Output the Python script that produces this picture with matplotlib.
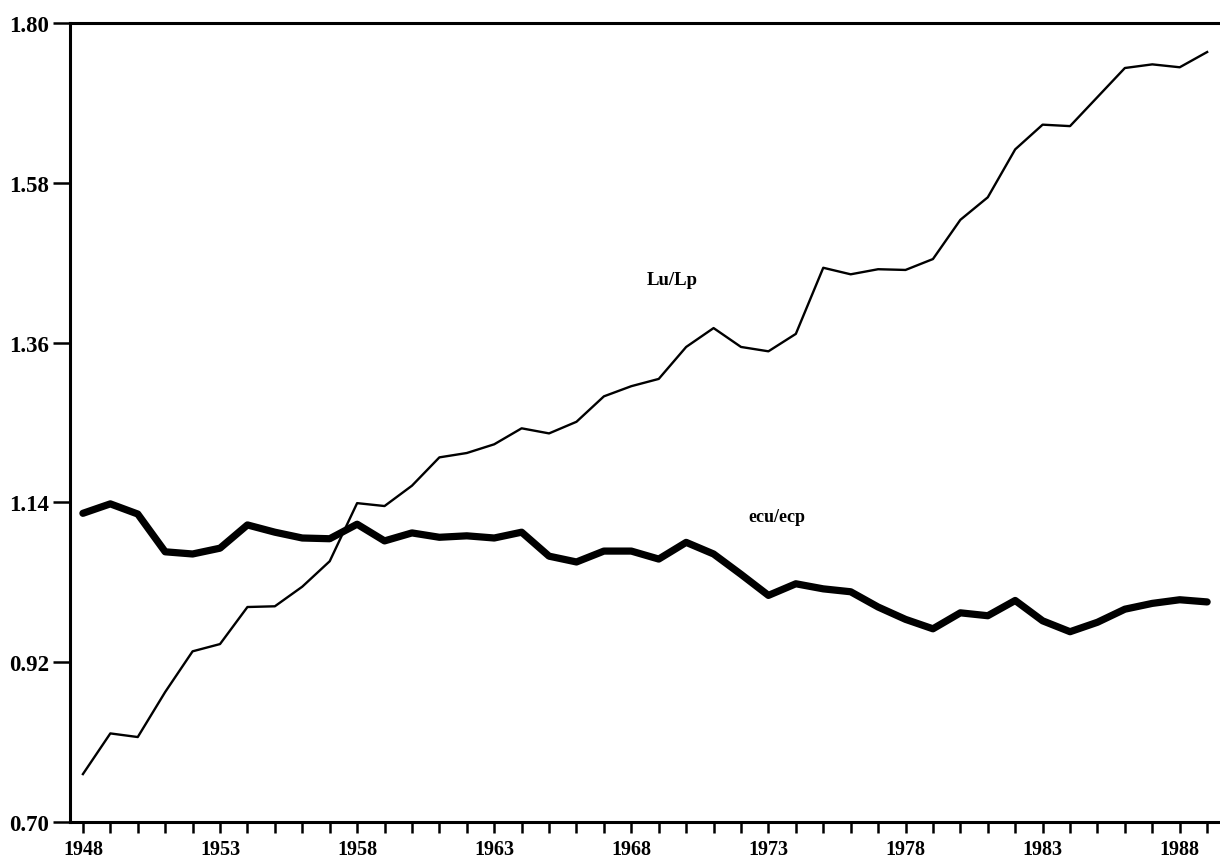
import matplotlib
matplotlib.use("Agg")
import matplotlib.pyplot as plt
import numpy as np

years = list(range(1948, 1990))
lu_lp = [0.766, 0.822, 0.817, 0.879, 0.935, 0.945, 0.996, 0.997, 1.024, 1.059,
         1.139, 1.135, 1.163, 1.202, 1.208, 1.220, 1.242, 1.235, 1.251, 1.286,
         1.300, 1.310, 1.354, 1.380, 1.354, 1.348, 1.372, 1.463, 1.454, 1.461,
         1.460, 1.475, 1.529, 1.560, 1.626, 1.660, 1.658, 1.698, 1.738, 1.743,
         1.739, 1.760]
ecu_ecp = [1.125, 1.138, 1.124, 1.072, 1.069, 1.077, 1.109, 1.099, 1.091, 1.090,
           1.110, 1.087, 1.098, 1.092, 1.094, 1.091, 1.099, 1.066, 1.058, 1.073,
           1.073, 1.062, 1.085, 1.069, 1.041, 1.012, 1.028, 1.021, 1.017, 0.996,
           0.979, 0.966, 0.988, 0.984, 1.005, 0.977, 0.962, 0.975, 0.993, 1.001,
           1.006, 1.003]
y_ticks = [0.70, 0.92, 1.14, 1.36, 1.58, 1.80]
x_label_years = [1948, 1953, 1958, 1963, 1968, 1973, 1978, 1983, 1988]

plt.rcParams['font.family'] = ['Liberation Serif', 'DejaVu Serif']

fig = plt.figure(figsize=(12.2, 8.62), dpi=100)
ax = fig.add_axes([0.0574, 0.0452, 0.9406, 0.927])

ax.plot(years, lu_lp, color='black', lw=1.7, solid_joinstyle='round')
ax.plot(years, ecu_ecp, color='black', lw=5.2, solid_joinstyle='round',
        solid_capstyle='round')

ax.set_xlim(1947.53, 1989.38)
ax.set_ylim(0.70, 1.80)

ax.set_yticks(y_ticks)
ax.set_yticklabels([f"{v:.2f}" for v in y_ticks], fontsize=16.5, fontweight='bold')
ax.set_xticks(years)
ax.set_xticklabels([str(y) if y in x_label_years else "" for y in years],
                   fontsize=14.5, fontweight='bold')

ax.tick_params(axis='x', direction='out', length=8, width=1.8, pad=4)
ax.tick_params(axis='y', direction='out', length=12, width=1.8, pad=3)

ax.spines['right'].set_visible(False)
for s in ['left', 'bottom', 'top']:
    ax.spines[s].set_linewidth(2.2)

ax.text(1969.5, 1.4475, "Lu/Lp", fontsize=13.5, fontweight='bold',
        ha='center', va='center')
ax.text(1973.3, 1.121, "ecu/ecp", fontsize=13, fontweight='bold',
        ha='center', va='center')

fig.savefig("out.png", dpi=100)
